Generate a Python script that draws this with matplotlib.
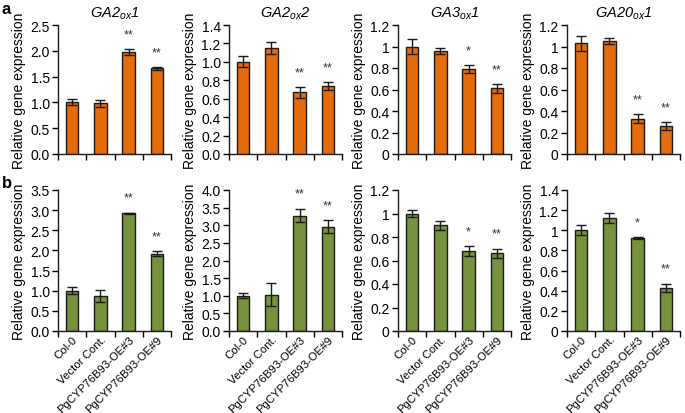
import matplotlib
matplotlib.use("Agg")
import matplotlib.pyplot as plt
import numpy as np

plt.rcParams["font.family"] = ["Liberation Sans", "DejaVu Sans"]
plt.rcParams["mathtext.fontset"] = "custom"
plt.rcParams["mathtext.it"] = "Liberation Sans:italic"
plt.rcParams["mathtext.rm"] = "Liberation Sans:italic"

# samples (bottom row labels)
samples = ["Col-0", "Vector Cont.", "PgCYP76B93-OE#3", "PgCYP76B93-OE#9"]

# row a: GA oxidase genes, orange bars
a_titles = [r"$\mathit{GA2}_{\mathit{ox}}\mathit{1}$", r"$\mathit{GA2}_{\mathit{ox}}\mathit{2}$",
            r"$\mathit{GA3}_{\mathit{ox}}\mathit{1}$", r"$\mathit{GA20}_{\mathit{ox}}\mathit{1}$"]
a_means = [[1.00, 0.98, 1.97, 1.66],
           [1.00, 1.15, 0.67, 0.74],
           [1.00, 0.96, 0.79, 0.61],
           [1.03, 1.05, 0.33, 0.26]]
a_errs = [[0.06, 0.07, 0.06, 0.03],
          [0.06, 0.07, 0.06, 0.04],
          [0.07, 0.03, 0.04, 0.04],
          [0.07, 0.03, 0.04, 0.04]]
a_stars = [["", "", "**", "**"],
           ["", "", "**", "**"],
           ["", "", "*", "**"],
           ["", "", "**", "**"]]
a_yticks = [[0.0, 0.5, 1.0, 1.5, 2.0, 2.5],
            [0.0, 0.2, 0.4, 0.6, 0.8, 1.0, 1.2, 1.4],
            [0, 0.2, 0.4, 0.6, 0.8, 1, 1.2],
            [0, 0.2, 0.4, 0.6, 0.8, 1, 1.2]]
a_ylabels = [["0.0", "0.5", "1.0", "1.5", "2.0", "2.5"],
             ["0.0", "0.2", "0.4", "0.6", "0.8", "1.0", "1.2", "1.4"],
             ["0", "0.2", "0.4", "0.6", "0.8", "1", "1.2"],
             ["0", "0.2", "0.4", "0.6", "0.8", "1", "1.2"]]

# row b: green bars
b_means = [[1.00, 0.86, 2.92, 1.92],
           [1.00, 1.03, 3.27, 2.96],
           [1.00, 0.90, 0.68, 0.66],
           [1.00, 1.12, 0.92, 0.43]]
b_errs = [[0.09, 0.15, 0.02, 0.06],
          [0.07, 0.33, 0.19, 0.18],
          [0.03, 0.04, 0.04, 0.04],
          [0.05, 0.05, 0.01, 0.04]]
b_stars = [["", "", "**", "**"],
           ["", "", "**", "**"],
           ["", "", "*", "**"],
           ["", "", "*", "**"]]
b_yticks = [[0.0, 0.5, 1.0, 1.5, 2.0, 2.5, 3.0, 3.5],
            [0.0, 0.5, 1.0, 1.5, 2.0, 2.5, 3.0, 3.5, 4.0],
            [0, 0.2, 0.4, 0.6, 0.8, 1, 1.2],
            [0, 0.2, 0.4, 0.6, 0.8, 1, 1.2, 1.4]]
b_ylabels = [["0.0", "0.5", "1.0", "1.5", "2.0", "2.5", "3.0", "3.5"],
             ["0.0", "0.5", "1.0", "1.5", "2.0", "2.5", "3.0", "3.5", "4.0"],
             ["0", "0.2", "0.4", "0.6", "0.8", "1", "1.2"],
             ["0", "0.2", "0.4", "0.6", "0.8", "1", "1.2", "1.4"]]

ORANGE = "#E46C0A"
GREEN = "#76923C"

fig = plt.figure(figsize=(6.85, 4.14), dpi=100)

lefts = [58 / 685, 229 / 685, 398 / 685, 567 / 685]
width = 113 / 685
row_a = (1 - 155 / 414, (155 - 26) / 414)
row_b = (1 - 332 / 414, (332 - 191) / 414)


def draw_panel(ax, means, errs, stars, yticks, ylabels, color, show_x):
    x = np.arange(len(means))
    ax.bar(x, means, width=0.44, color=color, edgecolor="#1a1a1a", linewidth=1.0, zorder=2)
    ax.errorbar(x, means, yerr=errs, fmt="none", ecolor="#1a1a1a", elinewidth=1.0,
                capsize=3.5, capthick=1.0, zorder=3)
    top = yticks[-1]
    for xi, m, e, s in zip(x, means, errs, stars):
        if s:
            ax.text(xi, m + e + top * 0.065, s, ha="center", va="bottom", fontsize=9, color="#333333")
    ax.set_xlim(-0.5, len(means) - 0.5)
    ax.set_ylim(0, top)
    ax.set_yticks(yticks)
    ax.set_yticklabels(ylabels, fontsize=10)
    ax.set_xticks(np.arange(-0.5, len(means)))
    ax.set_xticklabels([])
    ax.set_xticks(x, minor=True)
    if show_x:
        ax.set_xticklabels(samples, minor=True, rotation=45, ha="right",
                           rotation_mode="anchor", fontsize=8.2)
    ax.tick_params(axis="x", which="minor", length=0, pad=2)
    ax.tick_params(axis="x", which="major", length=4, direction="out", width=1)
    ax.tick_params(axis="y", length=4, direction="out", width=1, pad=2)
    for sp in ["top", "right"]:
        ax.spines[sp].set_visible(False)
    for sp in ["left", "bottom"]:
        ax.spines[sp].set_linewidth(1.0)
        ax.spines[sp].set_color("#1a1a1a")
    ax.set_ylabel("Relative gene expression", fontsize=10, labelpad=3)


for i in range(4):
    ax = fig.add_axes([lefts[i], row_a[0], width, row_a[1]])
    draw_panel(ax, a_means[i], a_errs[i], a_stars[i], a_yticks[i], a_ylabels[i], ORANGE, False)
    ax.set_title(a_titles[i], fontsize=10.5, pad=6)

for i in range(4):
    ax = fig.add_axes([lefts[i], row_b[0], width, row_b[1]])
    draw_panel(ax, b_means[i], b_errs[i], b_stars[i], b_yticks[i], b_ylabels[i], GREEN, True)

fig.text(2 / 685, 1 - 9 / 414, "a", fontsize=12, fontweight="bold", va="center", ha="left")
fig.text(2 / 685, 1 - 184 / 414, "b", fontsize=12, fontweight="bold", va="center", ha="left")

fig.savefig("out.png", dpi=100)
